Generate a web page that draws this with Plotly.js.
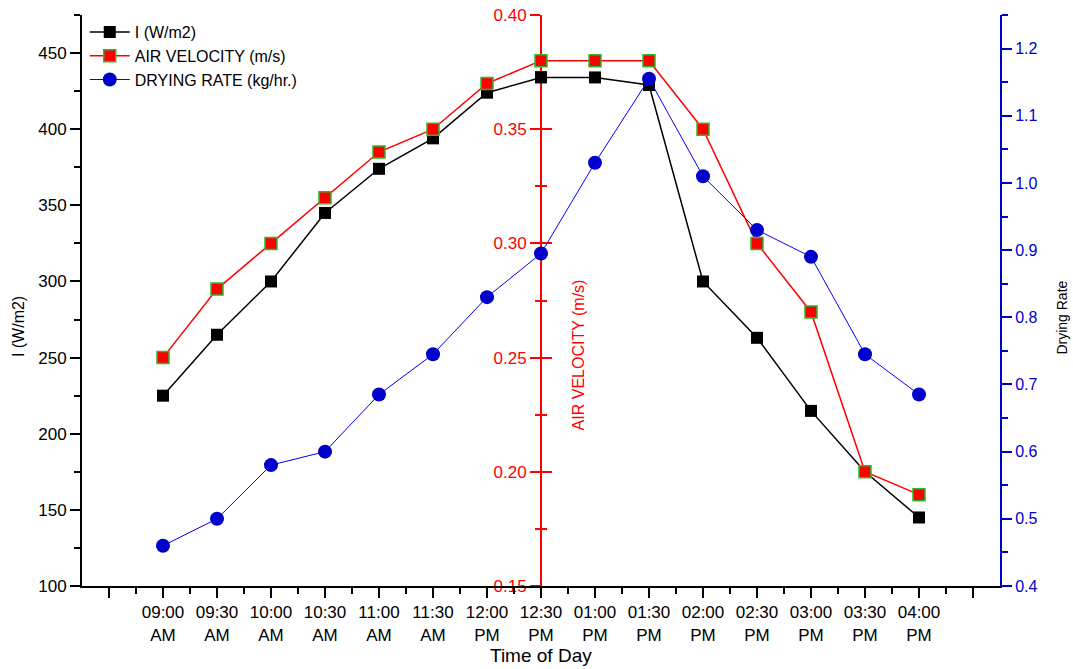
<!DOCTYPE html>
<html>
<head>
<meta charset="utf-8">
<script src="https://cdn.plot.ly/plotly-3.0.1.min.js"></script>
<style>html,body{margin:0;padding:0;background:#fff;}#chart{width:1073px;height:669px;}</style>
</head>
<body>
<div id="chart"></div>
<script>
const timeLabels = ["09:00<br>AM","09:30<br>AM","10:00<br>AM","10:30<br>AM","11:00<br>AM","11:30<br>AM","12:00<br>PM","12:30<br>PM","01:00<br>PM","01:30<br>PM","02:00<br>PM","02:30<br>PM","03:00<br>PM","03:30<br>PM","04:00<br>PM"];
const irradiance = [225, 265, 300, 345, 374, 394, 424, 434, 434, 429, 300, 263, 215, 175, 145];
const airVelocity = [0.25, 0.28, 0.30, 0.32, 0.34, 0.35, 0.37, 0.38, 0.38, 0.38, 0.35, 0.30, 0.27, 0.20, 0.19];
const dryingRate = [0.46, 0.50, 0.58, 0.60, 0.685, 0.745, 0.83, 0.895, 1.03, 1.155, 1.01, 0.93, 0.89, 0.745, 0.685];

const xIdx = timeLabels.map((_, i) => i);
const tickVals = [-1].concat(xIdx, [timeLabels.length]);
const tickText = [""].concat(timeLabels, [""]);
const minorVals = tickVals.map(v => v + 0.5).slice(0, -1);

const FONT = "Liberation Sans, Arial, sans-serif";

const traces = [
  {x: xIdx, y: irradiance, name: "I (W/m2)", type: "scatter", mode: "lines+markers",
   line: {color: "#000", width: 1.5}, marker: {symbol: "square", size: 12, color: "#000"}, yaxis: "y"},
  {x: xIdx, y: airVelocity, name: "AIR VELOCITY (m/s)", type: "scatter", mode: "lines+markers",
   line: {color: "#ff0000", width: 1.5}, marker: {symbol: "square", size: 12, color: "#ff0000", line: {color: "#2db82d", width: 1.5}}, yaxis: "y2"},
  {x: xIdx, y: dryingRate, name: "DRYING RATE (kg/hr.)", type: "scatter", mode: "lines+markers",
   line: {color: "#0000ff", width: 1}, marker: {symbol: "circle", size: 14, color: "#0000cc"}, yaxis: "y4"}
];

const layout = {
  width: 1073, height: 669,
  margin: {l: 82, r: 73, t: 15, b: 83},
  paper_bgcolor: "#fff", plot_bgcolor: "#fff",
  font: {family: FONT, size: 17, color: "#000"},
  showlegend: true,
  legend: {x: 0.003, y: 1.0, xanchor: "left", yanchor: "top", bgcolor: "rgba(0,0,0,0)",
           font: {size: 16, family: FONT}, tracegroupgap: 0, itemwidth: 40},
  xaxis: {range: [-1.5, 15.5], tickmode: "array", tickvals: tickVals, ticktext: tickText,
          showgrid: false, zeroline: false, showline: true, linecolor: "#000", linewidth: 2,
          ticks: "outside", ticklen: 10, tickwidth: 2, tickcolor: "#000",
          minor: {tickmode: "array", tickvals: minorVals, ticks: "outside", ticklen: 6, tickwidth: 2, tickcolor: "#000", showgrid: false},
          tickfont: {size: 17}},
  yaxis: {range: [100, 475], tick0: 100, dtick: 50, showgrid: false, zeroline: false,
          showline: true, linecolor: "#000", linewidth: 2, ticks: "outside", ticklen: 10, tickwidth: 2, tickcolor: "#000",
          minor: {dtick: 25, ticks: "outside", ticklen: 6, tickwidth: 2, tickcolor: "#000", showgrid: false},
          tickfont: {size: 17}},
  yaxis2: {overlaying: "y", anchor: "free", position: 0.5, side: "left", range: [0.15, 0.40],
           tick0: 0.15, dtick: 0.05, tickformat: ".2f", showgrid: false, zeroline: false,
           showline: true, linecolor: "#ff0000", linewidth: 2, ticks: "outside", ticklen: 10, tickwidth: 2, tickcolor: "#ff0000",
           minor: {dtick: 0.025, ticks: "outside", ticklen: 5, tickwidth: 2, tickcolor: "#ff0000", showgrid: false},
           tickfont: {size: 17, color: "#ff0000"}, layer: "below traces"},
  yaxis3: {overlaying: "y", anchor: "free", position: 0.5, side: "left", range: [0.15, 0.40],
           tick0: 0.15, dtick: 0.05, showgrid: false, zeroline: false, showticklabels: false,
           showline: false, ticks: "inside", ticklen: 10, tickwidth: 2, tickcolor: "#ff0000",
           minor: {dtick: 0.025, ticks: "inside", ticklen: 5, tickwidth: 2, tickcolor: "#ff0000", showgrid: false},
           layer: "below traces"},
  yaxis4: {overlaying: "y", anchor: "x", side: "right", range: [0.4, 1.25],
           tick0: 0.4, dtick: 0.1, tickformat: ".1f", showgrid: false, zeroline: false,
           showline: true, linecolor: "#0000cc", linewidth: 2, ticks: "outside", ticklen: 10, tickwidth: 2, tickcolor: "#0000cc",
           minor: {dtick: 0.05, ticks: "outside", ticklen: 6, tickwidth: 2, tickcolor: "#0000cc", showgrid: false},
           tickfont: {size: 16, color: "#0000cc"}},
  annotations: [
    {text: "AIR VELOCITY (m/s)", xref: "paper", yref: "paper", x: 0.541, y: 0.405, xanchor: "center", yanchor: "middle",
     showarrow: false, textangle: -90, font: {size: 16, color: "#ff0000", family: FONT}},
    {text: "I (W/m2)", xref: "paper", yref: "paper", x: -0.0698, y: 0.455, xanchor: "center", yanchor: "middle",
     showarrow: false, textangle: -90, font: {size: 16, color: "#000", family: FONT}},
    {text: "Drying Rate", xref: "paper", yref: "paper", x: 1.0675, y: 0.47, xanchor: "center", yanchor: "middle",
     showarrow: false, textangle: -90, font: {size: 14, color: "#000", family: FONT}},
    {text: "Time of Day", xref: "paper", yref: "paper", x: 0.5, y: -0.121, xanchor: "center", yanchor: "middle",
     showarrow: false, font: {size: 19, color: "#000", family: FONT}}
  ]
};

// invisible trace so the crossing-tick axis renders
traces.push({x: [0], y: [0.1], yaxis: "y3", showlegend: false, hoverinfo: "skip", mode: "markers", marker: {opacity: 0}});

Plotly.newPlot("chart", traces, layout, {displayModeBar: false, staticPlot: true});
</script>
</body>
</html>
